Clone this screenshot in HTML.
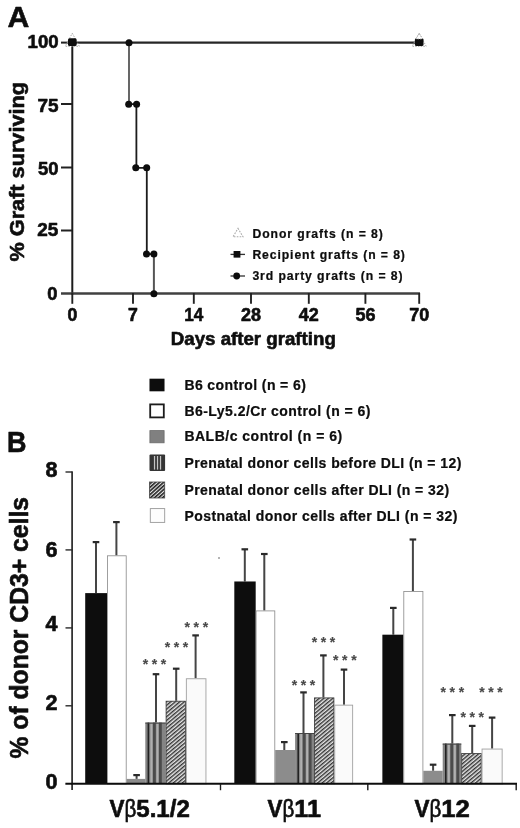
<!DOCTYPE html>
<html><head><meta charset="utf-8"><title>Figure</title>
<style>
html,body{margin:0;padding:0;background:#fff;}
body{width:520px;height:828px;overflow:hidden;}
svg{display:block;}
text{font-family:"Liberation Sans",Arial,Helvetica,sans-serif;font-weight:bold;fill:#0a0a0a;stroke:#0a0a0a;stroke-width:0.6px;stroke-linejoin:round;}
.t{stroke-width:0.2px;}
.m{font-weight:normal;stroke-width:0.55px;}
.r{font-weight:normal;}
</style></head><body>
<svg width="520" height="828" viewBox="0 0 520 828">
<defs>
<pattern id="vs" width="6" height="4" patternUnits="userSpaceOnUse"><rect width="6" height="4" fill="#858585"/><rect x="1.9" width="2.4" height="4" fill="#3a3a3a"/><rect x="5" width="1" height="4" fill="#a8a8a8"/><rect x="0" width="1" height="4" fill="#a8a8a8"/></pattern>
<pattern id="ht" width="2.9" height="2.9" patternUnits="userSpaceOnUse" patternTransform="rotate(-40)"><rect width="2.9" height="2.9" fill="#e6e6e6"/><rect width="2.9" height="1.4" fill="#343434"/></pattern>
<pattern id="ht2" width="2.7" height="2.7" patternUnits="userSpaceOnUse" patternTransform="rotate(-42)"><rect width="2.7" height="2.7" fill="#e8e8e8"/><rect width="2.7" height="1.6" fill="#242424"/></pattern>
<filter id="bl" x="-5%" y="-5%" width="110%" height="110%"><feGaussianBlur stdDeviation="0.45"/></filter>
</defs>
<rect width="520" height="828" fill="#ffffff"/>
<g filter="url(#bl)">

<text x="7.6" y="27.3" font-size="30" textLength="21.8" lengthAdjust="spacingAndGlyphs">A</text>
<line x1="72.3" y1="42" x2="72.3" y2="294.5" stroke="#1a1a1a" stroke-width="2"/>
<line x1="61" y1="293.5" x2="420" y2="293.5" stroke="#404040" stroke-width="2.6"/>
<line x1="61" y1="42.6" x2="72" y2="42.6" stroke="#222" stroke-width="2"/>
<line x1="61" y1="104" x2="72" y2="104" stroke="#222" stroke-width="2"/>
<line x1="61" y1="167.5" x2="72" y2="167.5" stroke="#222" stroke-width="2"/>
<line x1="61" y1="230.5" x2="72" y2="230.5" stroke="#222" stroke-width="2"/>
<line x1="72.3" y1="293" x2="72.3" y2="303.8" stroke="#222" stroke-width="1.9"/>
<line x1="133" y1="293" x2="133" y2="303.8" stroke="#222" stroke-width="1.9"/>
<line x1="193.8" y1="293" x2="193.8" y2="303.8" stroke="#222" stroke-width="1.9"/>
<line x1="251" y1="293" x2="251" y2="303.8" stroke="#222" stroke-width="1.9"/>
<line x1="308.8" y1="293" x2="308.8" y2="303.8" stroke="#222" stroke-width="1.9"/>
<line x1="365.4" y1="293" x2="365.4" y2="303.8" stroke="#222" stroke-width="1.9"/>
<line x1="419.2" y1="293" x2="419.2" y2="303.8" stroke="#222" stroke-width="1.9"/>
<text x="58.6" y="48.2" font-size="17.5" text-anchor="end" textLength="31" lengthAdjust="spacingAndGlyphs">100</text>
<text x="58.5" y="112" font-size="17.5" text-anchor="end" textLength="21" lengthAdjust="spacingAndGlyphs">75</text>
<text x="58.5" y="174.8" font-size="17.5" text-anchor="end" textLength="20.5" lengthAdjust="spacingAndGlyphs">50</text>
<text x="58.2" y="236.2" font-size="17.5" text-anchor="end" textLength="21" lengthAdjust="spacingAndGlyphs">25</text>
<text x="57.5" y="300" font-size="17.5" text-anchor="end" textLength="10.2" lengthAdjust="spacingAndGlyphs">0</text>
<text x="72.3" y="321.3" font-size="17.5" text-anchor="middle" textLength="9.8" lengthAdjust="spacingAndGlyphs">0</text>
<text x="133" y="321.3" font-size="17.5" text-anchor="middle" textLength="9.8" lengthAdjust="spacingAndGlyphs">7</text>
<text x="193.8" y="321.3" font-size="17.5" text-anchor="middle" textLength="19" lengthAdjust="spacingAndGlyphs">14</text>
<text x="251" y="321.3" font-size="17.5" text-anchor="middle" textLength="20" lengthAdjust="spacingAndGlyphs">28</text>
<text x="308.8" y="321.3" font-size="17.5" text-anchor="middle" textLength="20" lengthAdjust="spacingAndGlyphs">42</text>
<text x="365.4" y="321.3" font-size="17.5" text-anchor="middle" textLength="20" lengthAdjust="spacingAndGlyphs">56</text>
<text x="419.2" y="321.3" font-size="17.5" text-anchor="middle" textLength="20" lengthAdjust="spacingAndGlyphs">70</text>
<text x="170.8" y="345.3" font-size="18.5" textLength="165" lengthAdjust="spacingAndGlyphs">Days after grafting</text>
<text transform="translate(23.6,261.5) rotate(-90)" font-size="20.2" textLength="179.5" lengthAdjust="spacingAndGlyphs">% Graft surviving</text>
<line x1="72" y1="42.6" x2="419" y2="42.6" stroke="#262626" stroke-width="2.2"/>
<path d="M129 42.6V104.2" stroke="#555" stroke-width="1.8" fill="none"/>
<path d="M129 104.2H136.4V167.8H146.8V254.1" stroke="#1c1c1c" stroke-width="1.8" fill="none"/>
<path d="M146.8 254.1H153.9" stroke="#1c1c1c" stroke-width="1.8" fill="none"/>
<path d="M153.9 254.1V293.6" stroke="#555" stroke-width="2" fill="none"/>
<circle cx="129" cy="42.7" r="3.5" fill="#0a0a0a"/>
<circle cx="128.7" cy="104.2" r="3.5" fill="#0a0a0a"/>
<circle cx="136.6" cy="104.2" r="3.5" fill="#0a0a0a"/>
<circle cx="135.8" cy="167.8" r="3.5" fill="#0a0a0a"/>
<circle cx="146.7" cy="167.8" r="3.5" fill="#0a0a0a"/>
<circle cx="146.5" cy="254.1" r="3.5" fill="#0a0a0a"/>
<circle cx="153.9" cy="254.1" r="3.5" fill="#0a0a0a"/>
<circle cx="153.9" cy="293.8" r="3.5" fill="#0a0a0a"/>
<path d="M72.3 33.2L79.3 46.3H65.3Z" fill="#fff" fill-opacity="0.0" stroke="#aaa" stroke-width="1" stroke-dasharray="1.5 1.2"/>
<rect x="68.0" y="38.2" width="8.6" height="7.8" rx="1.5" fill="#0a0a0a"/>
<path d="M419.2 33.2L426.2 46.3H412.2Z" fill="#fff" fill-opacity="0.0" stroke="#aaa" stroke-width="1" stroke-dasharray="1.5 1.2"/>
<rect x="414.9" y="38.2" width="8.6" height="7.8" rx="1.5" fill="#0a0a0a"/>
<path d="M419.2 33.6L422.6 39H415.8Z" fill="#fff" stroke="#999" stroke-width="0.8" stroke-dasharray="1.5 1"/>
<path d="M238 228.3L243 236.8H233Z" fill="none" stroke="#aaa" stroke-width="1.1" stroke-dasharray="1.6 1.3"/>
<line x1="230.5" y1="254.4" x2="245" y2="254.4" stroke="#333" stroke-width="1.3"/>
<rect x="233.6" y="251" width="6.8" height="6.6" fill="#0a0a0a"/>
<line x1="230.5" y1="276" x2="245" y2="276" stroke="#333" stroke-width="1.3"/>
<circle cx="236.7" cy="276" r="3.4" fill="#0a0a0a"/>
<text class="t" x="252.4" y="237.7" font-size="12.2" textLength="130.4" lengthAdjust="spacing">Donor grafts (n = 8)</text>
<text class="t" x="252.4" y="259.3" font-size="12.2" textLength="152.5" lengthAdjust="spacing">Recipient grafts (n = 8)</text>
<text class="t" x="252.4" y="280.3" font-size="12.2" textLength="150.1" lengthAdjust="spacing">3rd party grafts (n = 8)</text>
<text x="7" y="451.6" font-size="30" textLength="19.5" lengthAdjust="spacingAndGlyphs">B</text>
<rect x="149.5" y="378.7" width="15" height="12.6" fill="#0a0a0a"/>
<rect x="150.2" y="404.4" width="13.6" height="13" fill="#fff" stroke="#1a1a1a" stroke-width="1.8"/>
<rect x="149.9" y="430.6" width="14.2" height="12.2" fill="#808080" stroke="#6a6a6a" stroke-width="0.8"/>
<rect x="149.5" y="454.6" width="15.6" height="16.4" rx="1" fill="#343434"/>
<rect x="153.9" y="456" width="1.25" height="13.6" fill="#c4c4c4"/>
<rect x="156.9" y="456" width="1.25" height="13.6" fill="#c4c4c4"/>
<rect x="159.9" y="456" width="1.25" height="13.6" fill="#c4c4c4"/>
<rect x="149.5" y="482" width="15.2" height="16" fill="url(#ht2)" stroke="#444" stroke-width="0.8"/>
<rect x="150.3" y="508.6" width="14.4" height="13.8" fill="#fdfdfd" stroke="#999" stroke-width="0.9"/>
<text class="t" x="184.4" y="389.7" font-size="14" textLength="121.4" lengthAdjust="spacing">B6 control (n = 6)</text>
<text class="t" x="184.4" y="415.9" font-size="14" textLength="186" lengthAdjust="spacing">B6-Ly5.2/Cr control (n = 6)</text>
<text class="t" x="184.4" y="440.7" font-size="14" textLength="157.8" lengthAdjust="spacing">BALB/c control (n = 6)</text>
<text class="t" x="184.4" y="467.7" font-size="14" textLength="277" lengthAdjust="spacing">Prenatal donor cells before DLI (n = 12)</text>
<text class="t" x="184.4" y="494.7" font-size="14" textLength="264.8" lengthAdjust="spacing">Prenatal donor cells after DLI (n = 32)</text>
<text class="t" x="184.4" y="520.9" font-size="14" textLength="272.9" lengthAdjust="spacing">Postnatal donor cells after DLI (n = 32)</text>
<line x1="72.1" y1="471.5" x2="72.1" y2="790" stroke="#333" stroke-width="1.8"/>
<line x1="65.5" y1="472.0" x2="72.5" y2="472.0" stroke="#2a2a2a" stroke-width="1.4"/>
<line x1="65.5" y1="549.9" x2="72.5" y2="549.9" stroke="#2a2a2a" stroke-width="1.4"/>
<line x1="65.5" y1="627.9" x2="72.5" y2="627.9" stroke="#2a2a2a" stroke-width="1.4"/>
<line x1="65.5" y1="705.8" x2="72.5" y2="705.8" stroke="#2a2a2a" stroke-width="1.4"/>
<text x="57.5" y="477" font-size="21.5" text-anchor="end" textLength="12" lengthAdjust="spacingAndGlyphs">8</text>
<text x="57.5" y="556.6" font-size="21.5" text-anchor="end" textLength="12" lengthAdjust="spacingAndGlyphs">6</text>
<text x="57.5" y="631" font-size="21.5" text-anchor="end" textLength="12" lengthAdjust="spacingAndGlyphs">4</text>
<text x="57.5" y="710" font-size="21.5" text-anchor="end" textLength="12" lengthAdjust="spacingAndGlyphs">2</text>
<text x="57.5" y="789.3" font-size="21.5" text-anchor="end" textLength="12" lengthAdjust="spacingAndGlyphs">0</text>
<text transform="translate(28.2,758.5) rotate(-90)" font-size="26" textLength="261.5" lengthAdjust="spacingAndGlyphs">% of donor CD3+ cells</text>
<path d="M96 593.1V541.7" stroke="#444" stroke-width="2" fill="none"/><path d="M92.7 542.1H99.3" stroke="#2a2a2a" stroke-width="2.2" fill="none"/>
<rect x="85.2" y="593.1" width="21.80" height="190.70" fill="#0a0a0a"/>
<path d="M116.4 555.4V521.7" stroke="#444" stroke-width="2" fill="none"/><path d="M113.10000000000001 522.1H119.7" stroke="#2a2a2a" stroke-width="2.2" fill="none"/>
<rect x="107.40" y="555.80" width="18.80" height="228.00" fill="#ffffff" stroke="#888" stroke-width="0.8"/>
<path d="M136.6 778.9V774.7" stroke="#444" stroke-width="2" fill="none"/><path d="M133.29999999999998 775.1H139.9" stroke="#2a2a2a" stroke-width="2.2" fill="none"/>
<rect x="126.6" y="778.9" width="18.70" height="4.90" fill="#8c8c8c"/>
<path d="M156 722.6V673.8" stroke="#444" stroke-width="2" fill="none"/><path d="M152.7 674.1999999999999H159.3" stroke="#2a2a2a" stroke-width="2.2" fill="none"/>
<rect x="145.3" y="722.6" width="20.40" height="61.20" fill="#848484"/>
<rect x="147.60" y="722.6" width="1.6" height="61.20" fill="#222"/>
<rect x="150.40" y="723.6" width="2.0" height="60.20" fill="#b0b0b0"/>
<rect x="153.00" y="722.6" width="2.8" height="61.20" fill="#4c4c4c"/>
<rect x="156.40" y="723.6" width="2.0" height="60.20" fill="#b0b0b0"/>
<rect x="159.00" y="722.6" width="2.8" height="61.20" fill="#4c4c4c"/>
<path d="M145.3 723.1H165.7" stroke="#444" stroke-width="1"/>
<path d="M176.2 700.8V668.3" stroke="#444" stroke-width="2" fill="none"/><path d="M172.89999999999998 668.6999999999999H179.5" stroke="#2a2a2a" stroke-width="2.2" fill="none"/>
<rect x="166.10" y="701.20" width="19.40" height="82.60" fill="url(#ht)" stroke="#333" stroke-width="0.8"/>
<path d="M195.6 678.3V635" stroke="#444" stroke-width="2" fill="none"/><path d="M192.29999999999998 635.4H198.9" stroke="#2a2a2a" stroke-width="2.2" fill="none"/>
<rect x="186.35" y="678.75" width="19.60" height="105.05" fill="#fafafa" stroke="#a0a0a0" stroke-width="0.9"/>
<path d="M244.8 581.5V548.9" stroke="#444" stroke-width="2" fill="none"/><path d="M241.5 549.3H248.10000000000002" stroke="#2a2a2a" stroke-width="2.2" fill="none"/>
<rect x="234.3" y="581.5" width="21.40" height="202.30" fill="#0a0a0a"/>
<path d="M264.3 610.5V553.6" stroke="#444" stroke-width="2" fill="none"/><path d="M261.0 554.0H267.6" stroke="#2a2a2a" stroke-width="2.2" fill="none"/>
<rect x="256.10" y="610.90" width="18.70" height="172.90" fill="#ffffff" stroke="#888" stroke-width="0.8"/>
<path d="M284.3 750V741.7" stroke="#444" stroke-width="2" fill="none"/><path d="M281.0 742.1H287.6" stroke="#2a2a2a" stroke-width="2.2" fill="none"/>
<rect x="275.2" y="750" width="19.90" height="33.80" fill="#8c8c8c"/>
<path d="M303.5 733V692" stroke="#444" stroke-width="2" fill="none"/><path d="M300.2 692.4H306.8" stroke="#2a2a2a" stroke-width="2.2" fill="none"/>
<rect x="295.1" y="733" width="18.90" height="50.80" fill="#848484"/>
<rect x="297.40" y="733" width="1.6" height="50.80" fill="#222"/>
<rect x="300.20" y="734" width="2.0" height="49.80" fill="#b0b0b0"/>
<rect x="302.80" y="733" width="2.8" height="50.80" fill="#4c4c4c"/>
<rect x="306.20" y="734" width="2.0" height="49.80" fill="#b0b0b0"/>
<rect x="308.80" y="733" width="2.8" height="50.80" fill="#4c4c4c"/>
<path d="M295.1 733.5H314" stroke="#444" stroke-width="1"/>
<path d="M323.4 697.5V655" stroke="#444" stroke-width="2" fill="none"/><path d="M320.09999999999997 655.4H326.7" stroke="#2a2a2a" stroke-width="2.2" fill="none"/>
<rect x="314.40" y="697.90" width="19.50" height="85.90" fill="url(#ht)" stroke="#333" stroke-width="0.8"/>
<path d="M344 704.7V669.2" stroke="#444" stroke-width="2" fill="none"/><path d="M340.7 669.6H347.3" stroke="#2a2a2a" stroke-width="2.2" fill="none"/>
<rect x="334.75" y="705.15" width="17.90" height="78.65" fill="#fafafa" stroke="#a0a0a0" stroke-width="0.9"/>
<path d="M393.3 634.7V607.5" stroke="#444" stroke-width="2" fill="none"/><path d="M390.0 607.9H396.6" stroke="#2a2a2a" stroke-width="2.2" fill="none"/>
<rect x="382.4" y="634.7" width="21.00" height="149.10" fill="#0a0a0a"/>
<path d="M412.9 591.2V539.1" stroke="#444" stroke-width="2" fill="none"/><path d="M409.59999999999997 539.5H416.2" stroke="#2a2a2a" stroke-width="2.2" fill="none"/>
<rect x="403.80" y="591.60" width="19.10" height="192.20" fill="#ffffff" stroke="#888" stroke-width="0.8"/>
<path d="M433.1 770.8V764.3" stroke="#444" stroke-width="2" fill="none"/><path d="M429.8 764.6999999999999H436.40000000000003" stroke="#2a2a2a" stroke-width="2.2" fill="none"/>
<rect x="423.3" y="770.8" width="19.40" height="13.00" fill="#8c8c8c"/>
<path d="M452.3 743.6V714.7" stroke="#444" stroke-width="2" fill="none"/><path d="M449.0 715.1H455.6" stroke="#2a2a2a" stroke-width="2.2" fill="none"/>
<rect x="442.7" y="743.6" width="18.60" height="40.20" fill="#848484"/>
<rect x="445.00" y="743.6" width="1.6" height="40.20" fill="#222"/>
<rect x="447.80" y="744.6" width="2.0" height="39.20" fill="#b0b0b0"/>
<rect x="450.40" y="743.6" width="2.8" height="40.20" fill="#4c4c4c"/>
<rect x="453.80" y="744.6" width="2.0" height="39.20" fill="#b0b0b0"/>
<rect x="456.40" y="743.6" width="2.8" height="40.20" fill="#4c4c4c"/>
<path d="M442.7 744.1H461.3" stroke="#444" stroke-width="1"/>
<path d="M472.2 753.2V725.5" stroke="#444" stroke-width="2" fill="none"/><path d="M468.9 725.9H475.5" stroke="#2a2a2a" stroke-width="2.2" fill="none"/>
<rect x="461.70" y="753.60" width="19.50" height="30.20" fill="url(#ht)" stroke="#333" stroke-width="0.8"/>
<path d="M492.1 748.6V717.2" stroke="#444" stroke-width="2" fill="none"/><path d="M488.8 717.6H495.40000000000003" stroke="#2a2a2a" stroke-width="2.2" fill="none"/>
<rect x="482.05" y="749.05" width="20.10" height="34.75" fill="#fafafa" stroke="#a0a0a0" stroke-width="0.9"/>
<text x="142.8" y="668.7" font-size="14" textLength="23.5" lengthAdjust="spacing" style="fill:#4a4a4a;stroke:#4a4a4a;stroke-width:0.15px">***</text>
<text x="164.7" y="651.5" font-size="14" textLength="23.5" lengthAdjust="spacing" style="fill:#4a4a4a;stroke:#4a4a4a;stroke-width:0.15px">***</text>
<text x="184.6" y="631.9" font-size="14" textLength="23.5" lengthAdjust="spacing" style="fill:#4a4a4a;stroke:#4a4a4a;stroke-width:0.15px">***</text>
<text x="291.8" y="689.7" font-size="14" textLength="23.5" lengthAdjust="spacing" style="fill:#4a4a4a;stroke:#4a4a4a;stroke-width:0.15px">***</text>
<text x="311.7" y="647.2" font-size="14" textLength="23.5" lengthAdjust="spacing" style="fill:#4a4a4a;stroke:#4a4a4a;stroke-width:0.15px">***</text>
<text x="333.1" y="665.3" font-size="14" textLength="23.5" lengthAdjust="spacing" style="fill:#4a4a4a;stroke:#4a4a4a;stroke-width:0.15px">***</text>
<text x="440.6" y="697.0" font-size="14" textLength="23.5" lengthAdjust="spacing" style="fill:#4a4a4a;stroke:#4a4a4a;stroke-width:0.15px">***</text>
<text x="460.5" y="722.4" font-size="14" textLength="23.5" lengthAdjust="spacing" style="fill:#4a4a4a;stroke:#4a4a4a;stroke-width:0.15px">***</text>
<text x="479.3" y="697.0" font-size="14" textLength="23.5" lengthAdjust="spacing" style="fill:#4a4a4a;stroke:#4a4a4a;stroke-width:0.15px">***</text>
<line x1="65.4" y1="783.8" x2="517" y2="783.8" stroke="#0a0a0a" stroke-width="2"/>
<line x1="220.5" y1="783.8" x2="220.5" y2="790.2" stroke="#1a1a1a" stroke-width="1.4"/>
<line x1="367.8" y1="783.8" x2="367.8" y2="790.2" stroke="#1a1a1a" stroke-width="1.4"/>
<line x1="516.2" y1="783.8" x2="516.2" y2="790.2" stroke="#1a1a1a" stroke-width="1.4"/>
<text x="109.5" y="817.3" font-size="23"><tspan textLength="15" lengthAdjust="spacingAndGlyphs">V</tspan><tspan class="r" font-weight="normal" font-size="23" textLength="11.8" lengthAdjust="spacingAndGlyphs">β</tspan><tspan textLength="53.5" lengthAdjust="spacingAndGlyphs">5.1/2</tspan></text>
<text x="267.5" y="817.3" font-size="23"><tspan textLength="15" lengthAdjust="spacingAndGlyphs">V</tspan><tspan class="r" font-weight="normal" font-size="23" textLength="11.8" lengthAdjust="spacingAndGlyphs">β</tspan><tspan textLength="26.6" lengthAdjust="spacingAndGlyphs">11</tspan></text>
<text x="414.5" y="817.3" font-size="23"><tspan textLength="15" lengthAdjust="spacingAndGlyphs">V</tspan><tspan class="r" font-weight="normal" font-size="23" textLength="11.8" lengthAdjust="spacingAndGlyphs">β</tspan><tspan textLength="28.6" lengthAdjust="spacingAndGlyphs">12</tspan></text>
<circle cx="219" cy="558" r="0.8" fill="#555"/>
</g></svg></body></html>
